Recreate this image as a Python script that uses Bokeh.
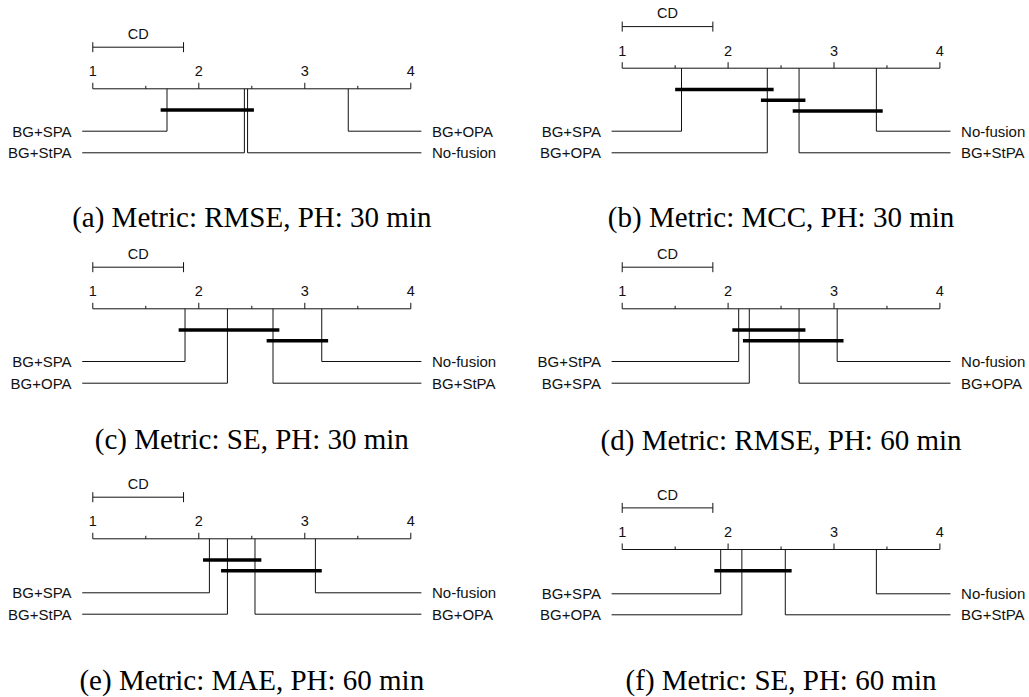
from bokeh.plotting import figure
from bokeh.layouts import column, row
from bokeh.models import Range1d
from bokeh.core.properties import value
from bokeh.embed import file_html
from bokeh.resources import INLINE

# ---------------- data ----------------
CD = 0.856
ticks = [1, 2, 3, 4]
minor_ticks = [1.5, 2.5, 3.5]
tick_labels = ["1", "2", "3", "4"]

captions = [
    "(a) Metric: RMSE, PH: 30 min",
    "(b) Metric: MCC, PH: 30 min",
    "(c) Metric: SE, PH: 30 min",
    "(d) Metric: RMSE, PH: 60 min",
    "(e) Metric: MAE, PH: 60 min",
    "(f) Metric: SE, PH: 60 min",
]

names_a = ["BG+SPA", "BG+StPA", "No-fusion", "BG+OPA"]
ranks_a = [1.70, 2.43, 2.46, 3.41]
cliques_a = [("BG+SPA", "No-fusion")]

names_b = ["BG+SPA", "BG+OPA", "BG+StPA", "No-fusion"]
ranks_b = [1.56, 2.37, 2.67, 3.40]
cliques_b = [("BG+SPA", "BG+OPA"), ("BG+OPA", "BG+StPA"), ("BG+StPA", "No-fusion")]

names_c = ["BG+SPA", "BG+OPA", "BG+StPA", "No-fusion"]
ranks_c = [1.87, 2.27, 2.70, 3.16]
cliques_c = [("BG+SPA", "BG+StPA"), ("BG+StPA", "No-fusion")]

names_d = ["BG+StPA", "BG+SPA", "BG+OPA", "No-fusion"]
ranks_d = [2.10, 2.20, 2.67, 3.03]
cliques_d = [("BG+StPA", "BG+OPA"), ("BG+SPA", "No-fusion")]

names_e = ["BG+SPA", "BG+StPA", "BG+OPA", "No-fusion"]
ranks_e = [2.10, 2.27, 2.53, 3.10]
cliques_e = [("BG+SPA", "BG+OPA"), ("BG+StPA", "No-fusion")]

names_f = ["BG+SPA", "BG+OPA", "BG+StPA", "No-fusion"]
ranks_f = [1.93, 2.13, 2.54, 3.40]
cliques_f = [("BG+SPA", "BG+StPA")]

# ---------------- layout ----------------
SANS = value("Liberation Sans")
SERIF = value("Liberation Serif")
ROW_TOPS = [0, 240, 462]
ROW_BOTS = [240, 462, 697]
COL_W = [515, 514]
COL_X0 = [0.1292, -0.0076]
COL_SCALE = [106.0, 105.9]

# (axis_y, line ys, caption y) in page pixels
LAYOUT = [
    (88.3, [130.7, 152.3], 216.7),
    (67.7, [130.7, 152.3], 216.7),
    (308.3, [361.0, 382.7], 438.3),
    (308.3, [361.0, 382.7], 439.5),
    (538.3, [592.3, 613.7], 679.3),
    (549.0, [593.3, 614.3], 679.3),
]

panels = [
    (names_a, ranks_a, cliques_a),
    (names_b, ranks_b, cliques_b),
    (names_c, ranks_c, cliques_c),
    (names_d, ranks_d, cliques_d),
    (names_e, ranks_e, cliques_e),
    (names_f, ranks_f, cliques_f),
]


def make_panel(idx):
    names, ranks, cliques = panels[idx]
    axis_y, line_ys, cap_y = LAYOUT[idx]
    r, c = divmod(idx, 2)
    w = COL_W[c]
    h = ROW_BOTS[r] - ROW_TOPS[r]
    x0 = COL_X0[c]
    p = figure(width=w, height=h,
               x_range=Range1d(x0, x0 + w / COL_SCALE[c]),
               y_range=Range1d(ROW_BOTS[r], ROW_TOPS[r]),
               output_backend="svg", toolbar_location=None,
               x_axis_location=None, y_axis_location=None, min_border=0)
    p.grid.visible = False
    p.outline_line_color = None
    p.background_fill_color = "white"
    p.border_fill_color = "white"

    lc = "#111111"
    # rank axis
    p.segment(x0=[ticks[0]], x1=[ticks[-1]], y0=[axis_y], y1=[axis_y], line_color=lc, line_width=1)
    p.segment(x0=ticks, x1=ticks, y0=[axis_y] * len(ticks), y1=[axis_y - 6] * len(ticks),
              line_color=lc, line_width=1)
    p.segment(x0=minor_ticks, x1=minor_ticks, y0=[axis_y] * len(minor_ticks),
              y1=[axis_y - 3] * len(minor_ticks), line_color=lc, line_width=1)
    p.text(x=ticks, y=[axis_y - 17.6] * len(ticks), text=tick_labels,
           text_font=SANS, text_font_size="14.5px", text_align="center",
           text_baseline="middle", text_color="#111111")

    # CD bar
    cd_y = axis_y - 41.6
    p.segment(x0=[1], x1=[1 + CD], y0=[cd_y], y1=[cd_y], line_color=lc, line_width=1)
    p.segment(x0=[1, 1 + CD], x1=[1, 1 + CD], y0=[cd_y - 5, cd_y - 5], y1=[cd_y + 5, cd_y + 5],
              line_color=lc, line_width=1)
    p.text(x=[1 + CD / 2], y=[cd_y - 13.4], text=["CD"], text_font=SANS,
           text_font_size="14.5px", text_align="center", text_baseline="middle",
           text_color="#111111")

    # methods
    order = sorted(range(len(ranks)), key=lambda i: ranks[i])
    k = (len(order) + 1) // 2
    left = order[:k]
    right = list(reversed(order[k:]))
    for j, i in enumerate(left):
        ly = line_ys[j]
        p.line(x=[ranks[i], ranks[i], 0.9], y=[axis_y, ly, ly], line_color=lc, line_width=1)
        p.text(x=[0.8], y=[ly], text=[names[i]], text_font=SANS, text_font_size="15px",
               text_align="right", text_baseline="middle", text_color="#111111")
    for j, i in enumerate(right):
        ly = line_ys[j]
        p.line(x=[ranks[i], ranks[i], 4.1], y=[axis_y, ly, ly], line_color=lc, line_width=1)
        p.text(x=[4.2], y=[ly], text=[names[i]], text_font=SANS, text_font_size="15px",
               text_align="left", text_baseline="middle", text_color="#111111")

    # cliques
    for q, (a, b) in enumerate(cliques):
        ra = ranks[names.index(a)]
        rb = ranks[names.index(b)]
        cy = axis_y + 21.3 + 10.7 * q
        p.line(x=[min(ra, rb) - 0.06, max(ra, rb) + 0.06], y=[cy, cy],
               line_color="black", line_width=3.5)

    # caption
    p.text(x=[2.5], y=[cap_y], text=[captions[idx]], text_font=SERIF,
           text_font_size="29px", text_align="center", text_baseline="middle",
           text_color="black")
    return p


figs = [make_panel(i) for i in range(6)]
layout = column(row(figs[0], figs[1]), row(figs[2], figs[3]), row(figs[4], figs[5]))

open("out.html", "w").write(file_html(layout, INLINE))
